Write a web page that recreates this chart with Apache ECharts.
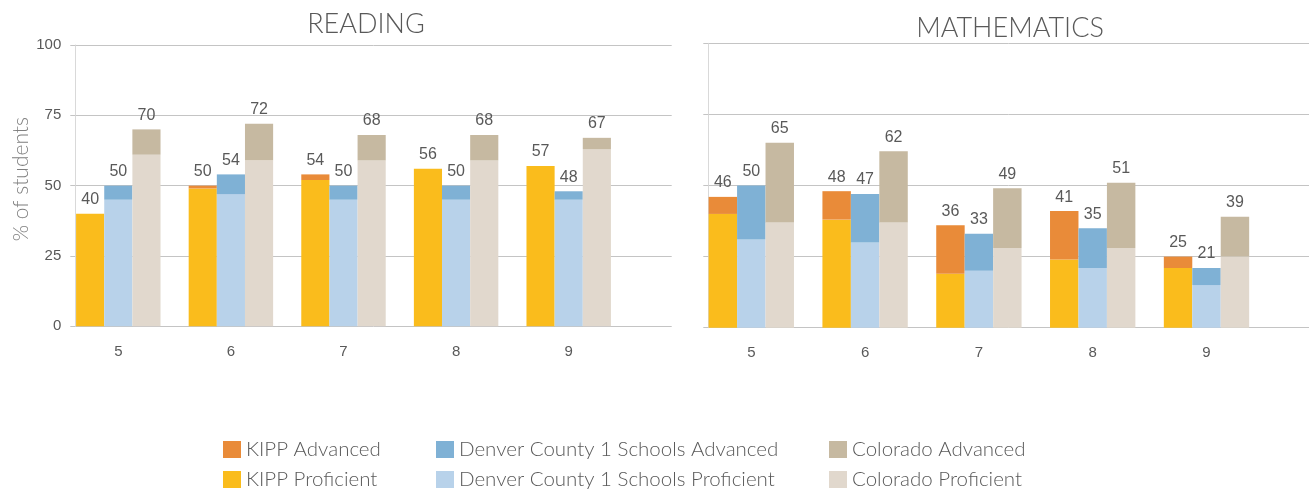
<!DOCTYPE html>
<html>
<head>
<meta charset="utf-8">
<script src="https://cdn.jsdelivr.net/npm/echarts@6/dist/echarts.min.js"></script>
<style>
html,body{margin:0;padding:0;background:#fff;}
#c{width:1309px;height:489px;}
</style>
</head>
<body>
<div id="c"></div>
<script>
// ---- data ----
const grades = ['5', '6', '7', '8', '9'];
const yTicks = [0, 25, 50, 75, 100];

// Reading
const readKippProf = [40, 49, 52, 56, 57];
const readKippAdv  = [0, 1, 2, 0, 0];
const readDpsProf  = [45, 47, 45, 45, 45];
const readDpsAdv   = [5, 7, 5, 5, 3];
const readCoProf   = [61, 59, 59, 59, 63];
const readCoAdv    = [9, 13, 9, 9, 4];

// Mathematics
const mathKippProf = [40, 38, 19, 24, 21];
const mathKippAdv  = [6, 10, 17, 17, 4];
const mathDpsProf  = [31, 30, 20, 21, 15];
const mathDpsAdv   = [19, 17, 13, 14, 6];
const mathCoProf   = [37, 37, 28, 28, 25];
const mathCoAdv    = [28, 25, 21, 23, 14];

const names = {
  kA: 'KIPP Advanced', kP: 'KIPP Proficient',
  dA: 'Denver County 1 Schools Advanced', dP: 'Denver County 1 Schools Proficient',
  cA: 'Colorado Advanced', cP: 'Colorado Proficient'
};
const colors = {
  kA: '#E98B39', kP: '#FABC1C',
  dA: '#7FB1D5', dP: '#B8D2EA',
  cA: '#C6B9A1', cP: '#E1D8CD'
};

const numFont = "'Liberation Sans', Arial, sans-serif";
const thinFont = "Lato, 'Open Sans', sans-serif";
const textColor = '#595959';
const gridColor = '#C4C4C4';

function pair(prefix, profKey, advKey, prof, adv, axisIdx) {
  return [
    {
      name: names[profKey], type: 'bar', stack: prefix,
      xAxisIndex: axisIdx, yAxisIndex: axisIdx,
      data: prof, itemStyle: {color: colors[profKey]},
      barGap: '0%', barCategoryGap: '25%'
    },
    {
      name: names[advKey], type: 'bar', stack: prefix,
      xAxisIndex: axisIdx, yAxisIndex: axisIdx,
      data: adv, itemStyle: {color: colors[advKey]},
      barGap: '0%', barCategoryGap: '25%',
      label: {
        show: true, position: 'top', distance: 6,
        fontFamily: numFont, fontSize: 16, color: textColor,
        formatter: p => String(prof[p.dataIndex] + adv[p.dataIndex])
      }
    }
  ];
}

function frameY(showLabels, gi) {
  return {
    type: 'value', gridIndex: gi, min: 0, max: 100, interval: 25,
    axisLine: {show: true, lineStyle: {color: '#D9D9D9', width: 1}},
    axisTick: {show: true, length: 5, lineStyle: {color: gridColor}},
    splitLine: {show: true, lineStyle: {color: gridColor, width: 1}},
    axisLabel: {show: showLabels, margin: 14, fontFamily: numFont, fontSize: 15, color: textColor},
    name: showLabels ? '% of students' : '',
    nameLocation: 'middle', nameRotate: 90, nameGap: 44,
    nameTextStyle: {fontFamily: thinFont, fontWeight: 300, fontSize: 21, color: '#7F7F7F', padding: [0, 0, 0, 13]}
  };
}
function barY(gi) {
  return {type: 'value', gridIndex: gi, min: 0, max: 100, interval: 25, show: false};
}
function frameX(gi) {
  return {type: 'category', gridIndex: gi, data: grades, show: false};
}
function barX(gi) {
  return {
    type: 'category', gridIndex: gi, data: grades,
    axisLine: {show: false}, axisTick: {show: false}, splitLine: {show: false},
    axisLabel: {margin: 18, fontFamily: numFont, fontSize: 15, color: textColor}
  };
}
function legendCol(left, items) {
  return {
    orient: 'vertical', left: left, top: 439, height: 70, padding: 0,
    itemWidth: 18, itemHeight: 17, itemGap: 9,
    icon: 'rect',
    data: items,
    textStyle: {fontFamily: thinFont, fontWeight: 300, fontSize: 20.5, color: textColor},
    selectedMode: true
  };
}

const chart = echarts.init(document.getElementById('c'), null, {renderer: 'canvas'});
chart.setOption({
  animation: false,
  backgroundColor: '#fff',
  title: [
    {text: 'READING', left: 366, top: 11, padding: 0, textAlign: 'center',
     textStyle: {fontFamily: thinFont, fontWeight: 300, fontSize: 27, color: textColor}},
    {text: 'MATHEMATICS', left: 1010, top: 15, padding: 0, textAlign: 'center',
     textStyle: {fontFamily: thinFont, fontWeight: 300, fontSize: 27, color: textColor}}
  ],
  legend: [
    legendCol(223, [names.kA, names.kP]),
    legendCol(436, [names.dA, names.dP]),
    legendCol(829, [names.cA, names.cP])
  ],
  grid: [
    {left: 75.3, top: 45, width: 596.4, height: 281.3},
    {left: 62, top: 45, width: 563, height: 281.3},
    {left: 708.3, top: 43.3, width: 600.7, height: 284.4},
    {left: 694.4, top: 43.3, width: 569, height: 284.4}
  ],
  xAxis: [frameX(0), barX(1), frameX(2), barX(3)],
  yAxis: [frameY(true, 0), barY(1), frameY(false, 2), barY(3)],
  series: [
    ...pair('rK', 'kP', 'kA', readKippProf, readKippAdv, 1),
    ...pair('rD', 'dP', 'dA', readDpsProf, readDpsAdv, 1),
    ...pair('rC', 'cP', 'cA', readCoProf, readCoAdv, 1),
    ...pair('mK', 'kP', 'kA', mathKippProf, mathKippAdv, 3),
    ...pair('mD', 'dP', 'dA', mathDpsProf, mathDpsAdv, 3),
    ...pair('mC', 'cP', 'cA', mathCoProf, mathCoAdv, 3)
  ]
});
</script>
</body>
</html>
